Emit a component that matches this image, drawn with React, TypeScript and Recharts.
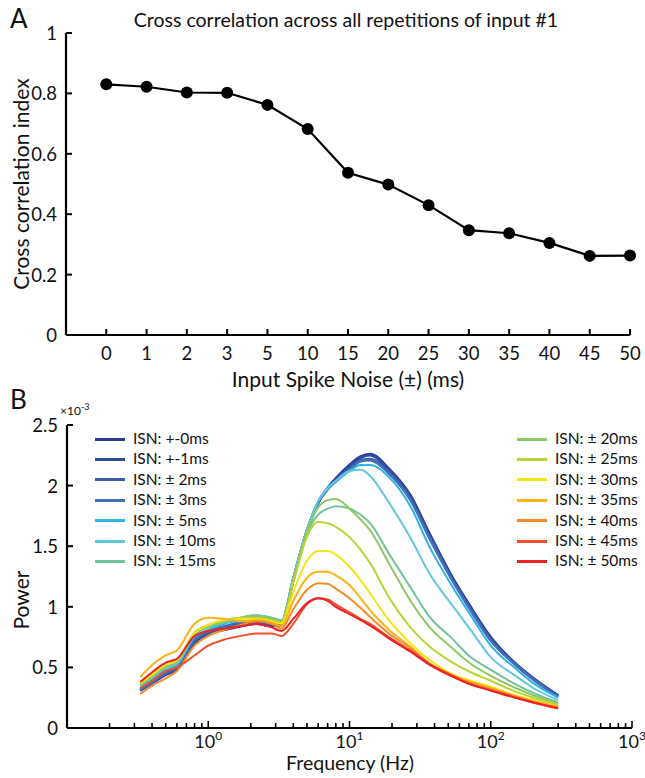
import { LineChart, Line, XAxis, YAxis } from 'recharts'

// ---- panel A: cross correlation vs input spike noise
const NOISE_LABELS = ['0', '1', '2', '3', '5', '10', '15', '20', '25', '30', '35', '40', '45', '50']
const CROSS_CORR = [0.83, 0.822, 0.803, 0.802, 0.762, 0.682, 0.537, 0.498, 0.43, 0.347, 0.337, 0.305, 0.262, 0.263]
const CC_Y_TICKS = [0, 0.2, 0.4, 0.6, 0.8, 1]

// ---- panel B: power spectra (power in units of 1e-3)
const FREQ = [0.33, 0.4, 0.5, 0.6, 0.8, 1, 1.3, 1.7, 2.2, 2.8, 3.3, 4, 5, 6, 7, 8, 10, 12, 14, 19, 27, 37, 52, 72, 100, 150, 200, 300]
const P_0MS = [0.31, 0.37, 0.44, 0.48, 0.70, 0.78, 0.81, 0.84, 0.86, 0.84, 0.85, 1.22, 1.62, 1.86, 1.98, 2.06, 2.17, 2.24, 2.26, 2.14, 1.92, 1.60, 1.27, 1.00, 0.75, 0.53, 0.41, 0.27]
const P_1MS = [0.31, 0.37, 0.44, 0.49, 0.71, 0.78, 0.82, 0.85, 0.86, 0.85, 0.86, 1.22, 1.62, 1.86, 1.98, 2.05, 2.16, 2.23, 2.25, 2.13, 1.91, 1.59, 1.26, 0.99, 0.74, 0.53, 0.41, 0.265]
const P_2MS = [0.32, 0.38, 0.45, 0.50, 0.72, 0.79, 0.83, 0.86, 0.87, 0.86, 0.87, 1.23, 1.63, 1.86, 1.97, 2.04, 2.14, 2.21, 2.22, 2.11, 1.89, 1.57, 1.25, 0.98, 0.73, 0.52, 0.40, 0.26]
const P_3MS = [0.32, 0.38, 0.46, 0.51, 0.73, 0.80, 0.84, 0.87, 0.88, 0.87, 0.87, 1.23, 1.63, 1.86, 1.97, 2.04, 2.13, 2.20, 2.21, 2.10, 1.88, 1.56, 1.24, 0.97, 0.72, 0.52, 0.40, 0.255]
const P_5MS = [0.33, 0.40, 0.48, 0.52, 0.75, 0.81, 0.86, 0.89, 0.91, 0.89, 0.88, 1.23, 1.63, 1.87, 1.97, 2.03, 2.12, 2.17, 2.17, 2.07, 1.83, 1.49, 1.19, 0.93, 0.68, 0.49, 0.37, 0.25]
const P_10MS = [0.35, 0.42, 0.50, 0.53, 0.77, 0.83, 0.87, 0.91, 0.93, 0.91, 0.89, 1.24, 1.64, 1.87, 1.98, 2.04, 2.12, 2.13, 2.08, 1.86, 1.57, 1.27, 1.03, 0.81, 0.585, 0.43, 0.33, 0.23]
const P_15MS = [0.35, 0.42, 0.50, 0.54, 0.77, 0.83, 0.87, 0.91, 0.93, 0.91, 0.89, 1.22, 1.60, 1.76, 1.81, 1.83, 1.81, 1.76, 1.69, 1.44, 1.16, 0.915, 0.75, 0.585, 0.48, 0.36, 0.29, 0.21]
const P_20MS = [0.36, 0.43, 0.51, 0.55, 0.78, 0.84, 0.88, 0.91, 0.92, 0.90, 0.88, 1.22, 1.62, 1.82, 1.88, 1.89, 1.81, 1.72, 1.63, 1.36, 1.05, 0.83, 0.67, 0.53, 0.43, 0.33, 0.27, 0.20]
const P_25MS = [0.37, 0.44, 0.52, 0.56, 0.79, 0.85, 0.89, 0.91, 0.91, 0.89, 0.87, 1.20, 1.58, 1.70, 1.69, 1.66, 1.575, 1.47, 1.36, 1.08, 0.83, 0.67, 0.55, 0.46, 0.39, 0.30, 0.25, 0.19]
const P_30MS = [0.37, 0.44, 0.52, 0.56, 0.78, 0.85, 0.89, 0.90, 0.90, 0.88, 0.86, 1.12, 1.38, 1.46, 1.46, 1.43, 1.33, 1.22, 1.11, 0.89, 0.70, 0.56, 0.45, 0.39, 0.34, 0.27, 0.23, 0.18]
const P_35MS = [0.42, 0.52, 0.60, 0.64, 0.86, 0.91, 0.90, 0.88, 0.89, 0.87, 0.84, 1.05, 1.24, 1.29, 1.29, 1.26, 1.18, 1.07, 0.97, 0.81, 0.67, 0.53, 0.44, 0.38, 0.33, 0.26, 0.22, 0.175]
const P_40MS = [0.28, 0.35, 0.41, 0.47, 0.68, 0.76, 0.81, 0.85, 0.88, 0.86, 0.82, 0.98, 1.14, 1.195, 1.19, 1.15, 1.07, 0.99, 0.915, 0.78, 0.66, 0.53, 0.44, 0.37, 0.32, 0.26, 0.215, 0.17]
const P_45MS = [0.33, 0.39, 0.47, 0.50, 0.60, 0.68, 0.73, 0.76, 0.78, 0.78, 0.76, 0.86, 1.02, 1.07, 1.06, 1.02, 0.955, 0.90, 0.86, 0.75, 0.64, 0.53, 0.44, 0.36, 0.31, 0.25, 0.21, 0.165]
const P_50MS = [0.38, 0.46, 0.54, 0.57, 0.76, 0.80, 0.82, 0.84, 0.86, 0.83, 0.80, 0.90, 1.03, 1.07, 1.05, 1.00, 0.94, 0.89, 0.845, 0.74, 0.63, 0.52, 0.43, 0.36, 0.31, 0.25, 0.21, 0.16]

const ISN_NAMES = [
  'ISN: +-0ms', 'ISN: +-1ms', 'ISN: \u00b1 2ms', 'ISN: \u00b1 3ms', 'ISN: \u00b1 5ms', 'ISN: \u00b1 10ms', 'ISN: \u00b1 15ms',
  'ISN: \u00b1 20ms', 'ISN: \u00b1 25ms', 'ISN: \u00b1 30ms', 'ISN: \u00b1 35ms', 'ISN: \u00b1 40ms', 'ISN: \u00b1 45ms', 'ISN: \u00b1 50ms',
]
const ISN_COLORS = [
  '#283C96', '#2F4DA0', '#3B5DAC', '#4270B6', '#2EB2E8', '#62C7DD', '#72C29A',
  '#8CC864', '#B9D433', '#F3E614', '#FBB117', '#F58A27', '#F04F2A', '#EC2227',
]
const ISN_VALUES = [P_0MS, P_1MS, P_2MS, P_3MS, P_5MS, P_10MS, P_15MS, P_20MS, P_25MS, P_30MS, P_35MS, P_40MS, P_45MS, P_50MS]
const POWER_Y_TICKS = [0, 0.5, 1, 1.5, 2, 2.5]
const FREQ_TICKS = [0.1, 1, 10, 100].flatMap(d => [1, 2, 3, 4, 5, 6, 7, 8, 9].map(m => +(d * m).toPrecision(3))).concat([1000])

const FONT = 'Lato, "Open Sans", sans-serif'

const ccData = NOISE_LABELS.map((label, i) => ({ idx: i, label, cc: CROSS_CORR[i] }))
const psdData = FREQ.map((f, i) => {
  const row: Record<string, number> = { f }
  ISN_VALUES.forEach((vals, k) => { row['s' + k] = vals[i] })
  return row
})

const LeftTick = ({ x, y, payload }: any) => (
  <g>
    <line x1={x} x2={x + 6} y1={y} y2={y} stroke="#000" strokeWidth={2} />
    <text x={x - 9} y={y} textAnchor="end" dominantBaseline="central" fontSize={18.5} fontFamily={FONT} fill="#111">
      {payload.value}
    </text>
  </g>
)

const NoiseTick = ({ x, y, payload }: any) => (
  <g>
    <line x1={x} x2={x} y1={y} y2={y - 6} stroke="#000" strokeWidth={2} />
    <text x={x} y={y + 18} textAnchor="middle" dominantBaseline="central" fontSize={18.5} fontFamily={FONT} fill="#111">
      {NOISE_LABELS[payload.value]}
    </text>
  </g>
)

const FreqTick = ({ x, y, payload }: any) => {
  const v = payload.value
  if (v === 0.1) return <g />
  const exp = Math.log10(v)
  const major = Math.abs(exp - Math.round(exp)) < 1e-6
  return (
    <g>
      <line x1={x} x2={x} y1={y} y2={y - (major ? 7 : 5)} stroke="#000" strokeWidth={1.6} />
      {major && (
        <text x={x} y={y + 20} textAnchor="middle" fontSize={18} fontFamily={FONT} fill="#111">
          10<tspan dy={-8} fontSize={12}>{Math.round(exp)}</tspan>
        </text>
      )}
    </g>
  )
}

const abs = (left: number, top: number, extra: React.CSSProperties = {}): React.CSSProperties => ({
  position: 'absolute', left, top, fontFamily: FONT, color: '#111', lineHeight: 1, whiteSpace: 'nowrap', ...extra,
})

export default function App() {
  return (
    <div style={{ position: 'absolute', left: 0, top: 0, width: 645, height: 778, background: '#fff', overflow: 'hidden' }}>
      {/* Panel A */}
      <div style={{ position: 'absolute', left: 0, top: 0 }}>
        <LineChart width={645} height={395} data={ccData} margin={{ top: 33, right: 15, left: 0, bottom: 0 }}>
          <XAxis
            type="number"
            dataKey="idx"
            domain={[-1, 13]}
            ticks={NOISE_LABELS.map((_, i) => i)}
            interval={0}
            height={60}
            tickSize={0}
            tickMargin={0}
            tickLine={false}
            axisLine={{ stroke: '#000', strokeWidth: 2.2 }}
            tick={<NoiseTick />}
          />
          <YAxis
            domain={[0, 1]}
            ticks={CC_Y_TICKS}
            interval={0}
            width={66}
            tickSize={0}
            tickMargin={0}
            tickLine={false}
            axisLine={{ stroke: '#000', strokeWidth: 2.2 }}
            tick={<LeftTick />}
          />
          <Line
            dataKey="cc"
            stroke="#000"
            strokeWidth={2.2}
            dot={{ r: 6, fill: '#000', stroke: '#000', strokeWidth: 0 }}
            isAnimationActive={false}
          />
        </LineChart>
      </div>

      <div style={abs(10, 5, { fontSize: 26 })}>A</div>
      <div style={abs(346, 10, { fontSize: 19.5, transform: 'translateX(-50%)' })}>
        Cross correlation across all repetitions of input #1
      </div>
      <div style={abs(348, 368, { fontSize: 21, transform: 'translateX(-50%)' })}>Input Spike Noise (±) (ms)</div>
      <div style={abs(20, 184, { fontSize: 21, transform: 'translate(-50%, -50%) rotate(-90deg)' })}>
        Cross correlation index
      </div>

      {/* Panel B */}
      <div style={{ position: 'absolute', left: 0, top: 395 }}>
        <LineChart width={645} height={383} data={psdData} margin={{ top: 30, right: 13, left: 0, bottom: 0 }}>
          <XAxis
            type="number"
            dataKey="f"
            scale="log"
            domain={[0.1, 1000]}
            allowDataOverflow
            ticks={FREQ_TICKS}
            interval={0}
            height={50}
            tickSize={0}
            tickMargin={0}
            tickLine={false}
            axisLine={{ stroke: '#000', strokeWidth: 2.2 }}
            tick={<FreqTick />}
          />
          <YAxis
            domain={[0, 2.5]}
            ticks={POWER_Y_TICKS}
            interval={0}
            width={67}
            tickSize={0}
            tickMargin={0}
            tickLine={false}
            axisLine={{ stroke: '#000', strokeWidth: 2.2 }}
            tick={<LeftTick />}
          />
          {ISN_VALUES.map((_, k) => (
            <Line
              key={k}
              type="monotone"
              dataKey={'s' + k}
              name={ISN_NAMES[k]}
              stroke={ISN_COLORS[k]}
              strokeWidth={k < 4 ? 2.6 : 2}
              dot={false}
              isAnimationActive={false}
            />
          ))}
        </LineChart>
      </div>

      <div style={abs(10, 386, { fontSize: 26 })}>B</div>
      <div style={abs(60, 402, { fontSize: 12 })}>
        ×10<sup style={{ fontSize: 9 }}>-3</sup>
      </div>
      <div style={abs(20, 600, { fontSize: 21, transform: 'translate(-50%, -50%) rotate(-90deg)' })}>Power</div>
      <div style={abs(350, 753, { fontSize: 19.5, transform: 'translateX(-50%)' })}>Frequency (Hz)</div>

      {/* Legend, two columns */}
      {ISN_NAMES.map((name, k) => {
        const col = k < 7 ? 0 : 1
        const row = k % 7
        const lx = col === 0 ? 95 : 517
        const cy = 439 + row * 20.4
        return (
          <div key={name}>
            <div style={{ position: 'absolute', left: lx, top: cy - 1.5, width: 30, height: 3, background: ISN_COLORS[k] }} />
            <div style={abs(lx + 38, cy - 8, { fontSize: 15.5 })}>{name}</div>
          </div>
        )
      })}
    </div>
  )
}
